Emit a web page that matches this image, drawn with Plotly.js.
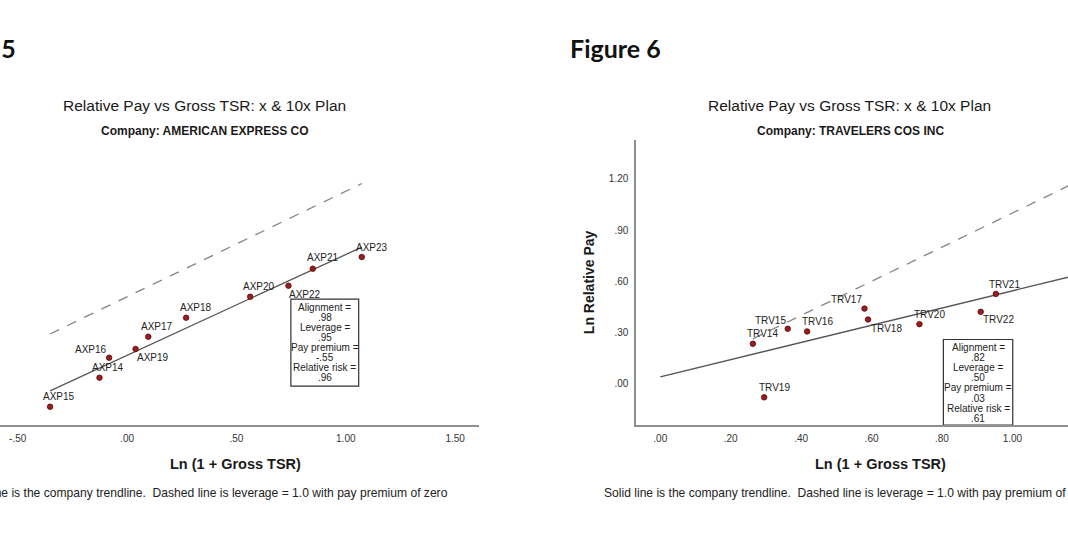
<!DOCTYPE html>
<html>
<head>
<meta charset="utf-8">
<script src="https://cdn.plot.ly/plotly-3.0.1.min.js"></script>
<style>
  html, body { margin:0; padding:0; background:#fff; }
  body { width:1068px; height:536px; overflow:hidden; position:relative; }
  .chart { position:absolute; top:0; width:630px; height:536px; }
</style>
</head>
<body>
<div id="fig5" class="chart" style="left:-111px"></div>
<div id="fig6" class="chart" style="left:534px"></div>
<script>
// ---------- Figure 5 : American Express ----------
const axpNames = ['AXP14','AXP15','AXP16','AXP17','AXP18','AXP19','AXP20','AXP21','AXP22','AXP23'];
const axpX     = [-0.126, -0.352, -0.082, 0.097, 0.270, 0.039, 0.563, 0.849, 0.738, 1.073];
const axpY     = [-0.766, -1.041, -0.577, -0.378, -0.198, -0.494, 0.001, 0.266, 0.105, 0.377];
const axpTrendX = [-0.352, 1.073];
const axpTrendY = [-0.890, 0.470];
const axpDashX  = [-0.352, 1.073];
const axpDashY  = [-0.352, 1.073];
const axpStats  = ['Alignment =', '.98', 'Leverage =', '.95', 'Pay premium =', '-.55', 'Relative risk =', '.96'];
const axpXTickVals = [-0.5, 0, 0.5, 1, 1.5];
const axpXTickText = ['-.50', '.00', '.50', '1.00', '1.50'];

// ---------- Figure 6 : Travelers ----------
const trvNames = ['TRV14','TRV15','TRV16','TRV17','TRV18','TRV19','TRV20','TRV21','TRV22'];
const trvX     = [0.263, 0.362, 0.417, 0.580, 0.590, 0.295, 0.736, 0.953, 0.910];
const trvY     = [0.234, 0.322, 0.306, 0.440, 0.376, -0.080, 0.349, 0.526, 0.421];
const trvTrendX = [0.00, 1.20];
const trvTrendY = [0.04, 0.645];
const trvDashX  = [0.263, 1.20];
const trvDashY  = [0.263, 1.20];
const trvStats  = ['Alignment =', '.82', 'Leverage =', '.50', 'Pay premium =', '.03', 'Relative risk =', '.61'];
const trvXTickVals = [0, 0.2, 0.4, 0.6, 0.8, 1.0, 1.2];
const trvXTickText = ['.00', '.20', '.40', '.60', '.80', '1.00', '1.20'];
const trvYTickVals = [0, 0.3, 0.6, 0.9, 1.2];
const trvYTickText = ['.00', '.30', '.60', '.90', '1.20'];

// label placement (pixel offsets from each point, style only)
const axpLabelDx = [9, 9, -18, 9, 10, 17, 9, 10, 17, 10];
const axpLabelDy = [-10, -10, -8, -10, -10, 9, -10, -11, 9, -10];
const trvLabelDx = [10, -17, 10, -18, 18, 10, 10, 9, 18];
const trvLabelDy = [-10, -8, -10, -9, 9, -10, -10, -9, 8];

const FONT = 'Liberation Sans, Arial, Helvetica, sans-serif';

function makeChart(div, o) {
  const traces = [
    { x: o.dashX, y: o.dashY, mode: 'lines', line: { color: '#858585', width: 1.3, dash: '10px,9px' }, hoverinfo: 'skip' },
    { x: o.trendX, y: o.trendY, mode: 'lines', line: { color: '#555555', width: 1.3 }, hoverinfo: 'skip' },
    { x: o.x, y: o.y, mode: 'markers', marker: { color: '#a01c1c', size: 5.5, line: { color: '#4a0808', width: 0.8 } } }
  ];
  const ann = [];
  o.names.forEach((n, i) => {
    ann.push({ x: o.x[i], y: o.y[i], xref: 'x', yref: 'y', text: n, showarrow: false,
      xanchor: 'center', yanchor: 'middle',
      xshift: o.dx[i], yshift: -o.dy[i], font: { family: FONT, size: 10, color: '#222' } });
  });
  const bx = (o.box[0] + o.box[1]) / 2;
  o.stats.forEach((s, i) => {
    ann.push({ x: bx, y: o.box[2], xref: 'x', yref: 'y', text: s, showarrow: false,
      xanchor: 'center', yanchor: 'middle', yshift: -(8 + i * 10.1), font: { family: FONT, size: 10, color: '#222' } });
  });
  const mid = { showarrow: false, xref: 'paper', yref: 'paper', yanchor: 'middle' };
  ann.push(Object.assign({}, mid, { x: 0.437, y: 1.1226, xanchor: 'center', text: 'Relative Pay vs Gross TSR: x &amp; 10x Plan',
    font: { family: FONT, size: 15.5, color: '#1a1a1a' } }));
  ann.push(Object.assign({}, mid, { x: 0.439, y: 1.0326, xanchor: 'center', text: '<b>' + o.company + '</b>',
    font: { family: FONT, size: 12, color: '#1a1a1a' } }));
  ann.push(Object.assign({}, mid, { x: -0.1395, y: 1.322, xanchor: 'left', text: '<b>' + o.figure + '</b>',
    font: { family: 'Lato, Inter, sans-serif', size: 25, color: '#111' } }));
  ann.push(Object.assign({}, mid, { x: -0.0964, y: 0.501, xanchor: 'center', textangle: -90, text: '<b>Ln Relative Pay</b>',
    font: { family: FONT, size: 14, color: '#1a1a1a' } }));
  ann.push(Object.assign({}, mid, { x: 0.502, y: -0.138, xanchor: 'center', text: '<b>Ln (1 + Gross TSR)</b>',
    font: { family: FONT, size: 14.5, color: '#1a1a1a' } }));
  ann.push(Object.assign({}, mid, { x: -0.0697, y: -0.240, xanchor: 'left',
    text: 'Solid line is the company trendline.\u00a0\u00a0Dashed line is leverage = 1.0 with pay premium of zero',
    font: { family: FONT, size: 12.1, color: '#222' } }));

  const layout = {
    width: 630, height: 536,
    margin: { l: 102, r: 40, t: 140, b: 110.5 },
    paper_bgcolor: '#fff', plot_bgcolor: '#fff',
    showlegend: false,
    xaxis: { range: o.xr, showgrid: false, zeroline: false, showline: true, linecolor: '#8f8f8f', linewidth: 1.7,
      tickmode: 'array', tickvals: o.xtv, ticktext: o.xtt, ticks: '', ticklabelstandoff: 3,
      tickfont: { family: FONT, size: 10, color: '#333' } },
    yaxis: { range: o.yr, showgrid: false, zeroline: false, showline: true, linecolor: '#8f8f8f', linewidth: 1.7,
      showticklabels: o.ytv.length > 0,
      tickmode: 'array', tickvals: o.ytv, ticktext: o.ytt, ticks: '', ticklabelstandoff: 4,
      tickfont: { family: FONT, size: 10, color: '#333' } },
    shapes: [{ type: 'rect', xref: 'x', yref: 'y', x0: o.box[0], x1: o.box[1], y0: o.box[3], y1: o.box[2],
      line: { color: '#333', width: 1.2 }, fillcolor: 'rgba(0,0,0,0)' }],
    annotations: ann
  };
  Plotly.newPlot(div, traces, layout, { staticPlot: true, displayModeBar: false });
}

makeChart('fig5', {
  names: axpNames, x: axpX, y: axpY, dx: axpLabelDx, dy: axpLabelDy,
  trendX: axpTrendX, trendY: axpTrendY, dashX: axpDashX, dashY: axpDashY,
  stats: axpStats, box: [0.749, 1.059, -0.021, -0.845],
  company: 'Company: AMERICAN EXPRESS CO', figure: 'Figure 5',
  xr: [-0.622, 1.609], yr: [-1.214, 1.485],
  xtv: axpXTickVals, xtt: axpXTickText, ytv: [], ytt: []
});
makeChart('fig6', {
  names: trvNames, x: trvX, y: trvY, dx: trvLabelDx, dy: trvLabelDy,
  trendX: trvTrendX, trendY: trvTrendY, dashX: trvDashX, dashY: trvDashY,
  stats: trvStats, box: [0.804, 1.001, 0.259, -0.242],
  company: 'Company: TRAVELERS COS INC', figure: 'Figure 6',
  xr: [-0.069, 1.317], yr: [-0.242, 1.428],
  xtv: trvXTickVals, xtt: trvXTickText, ytv: trvYTickVals, ytt: trvYTickText
});
</script>
</body>
</html>
